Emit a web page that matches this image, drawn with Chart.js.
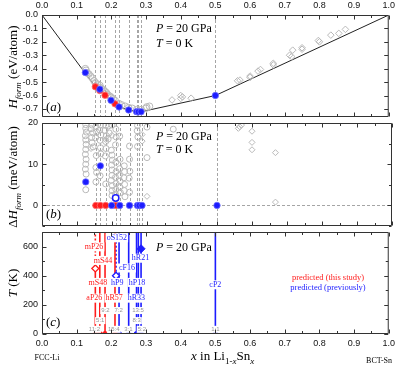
<!DOCTYPE html>
<html>
<head>
<meta charset="utf-8">
<script src="https://cdn.jsdelivr.net/npm/chart.js@4.4.1/dist/chart.umd.min.js"></script>
<style>
  body { margin: 0; background: #fff; }
  #wrap { position: relative; width: 399px; height: 366px; }
  #wrap canvas { position: absolute; left: 0; top: 0; }
</style>
</head>
<body>
<div id="wrap">
  <canvas id="cA" width="399" height="366"></canvas>
  <canvas id="cB" width="399" height="366"></canvas>
  <canvas id="cC" width="399" height="366"></canvas>
</div>
<script>
// axes
const xTicks = [0, 0.1, 0.2, 0.3, 0.4, 0.5, 0.6, 0.7, 0.8, 0.9, 1.0];
const xMinorTicks = [0.05, 0.15, 0.25, 0.35, 0.45, 0.55, 0.65, 0.75, 0.85, 0.95];
const yTicksA = [0, -0.1, -0.2, -0.3, -0.4, -0.5, -0.6, -0.7];
const yTicksB = [0, 10, 20];
const yMinorB = [-5, 5, 15];
const yTicksC = [0, 200, 400, 600];
const yMinorC = [100, 300, 500, 700];

// stable compositions x in Li(1-x)Sn(x)
const compX = [0.1538, 0.1667, 0.1818, 0.2105, 0.2222, 0.25, 0.2727, 0.2778, 0.2857, 0.5];
const ratioLabels = ['11:2', '5:1', '9:2', '15:4', '7:2', '3:1', '8:3', '13:5', '5:2', '1:1'];
const ratioLabX = [0.151, 0.168, 0.183, 0.207, 0.221, 0.249, 0.273, 0.277, 0.288, 0.5];
const ratioLabT = [32, 92, 161, 32, 161, 32, 92, 161, 32, 32];

// (a) formation enthalpy, eV/atom
const hullX = [0, 0.1538, 0.1667, 0.1818, 0.2105, 0.2222, 0.25, 0.2727, 0.2778, 0.2857, 0.5, 1.0];
const hullH = [0, -0.535, -0.563, -0.598, -0.662, -0.685, -0.708, -0.72, -0.722, -0.721, -0.6, 0];
const redAX = [0.1538, 0.1667, 0.1818, 0.2105];
const redAH = [-0.535, -0.563, -0.598, -0.662];
const blueAX = [0.125, 0.1667, 0.199, 0.2222, 0.25, 0.2727, 0.2778, 0.2857, 0.5];
const blueAH = [-0.429, -0.553, -0.636, -0.685, -0.708, -0.72, -0.722, -0.721, -0.6];
const greyCirclesA = [
  [0.125, -0.40], [0.127, -0.412], [0.13, -0.43], [0.135, -0.44], [0.14, -0.455], [0.145, -0.47],
  [0.15, -0.49], [0.154, -0.505], [0.16, -0.515], [0.167, -0.525], [0.167, -0.54], [0.172, -0.55],
  [0.178, -0.56], [0.182, -0.57], [0.186, -0.58], [0.19, -0.595], [0.196, -0.605], [0.2, -0.615],
  [0.205, -0.625], [0.211, -0.638], [0.222, -0.66], [0.23, -0.67], [0.24, -0.68], [0.25, -0.69],
  [0.26, -0.695], [0.273, -0.705], [0.286, -0.705], [0.3, -0.695], [0.302, -0.685], [0.31, -0.68]
];
const greyDiamondsA = [
  [0.375, -0.633], [0.4, -0.622], [0.4, -0.6], [0.405, -0.61], [0.43, -0.62],
  [0.564, -0.49], [0.571, -0.485], [0.6, -0.455], [0.6, -0.465], [0.623, -0.418], [0.63, -0.406],
  [0.667, -0.36], [0.667, -0.372], [0.714, -0.3], [0.72, -0.31], [0.723, -0.262], [0.75, -0.244],
  [0.75, -0.255], [0.797, -0.19], [0.8, -0.2], [0.833, -0.15], [0.856, -0.137], [0.875, -0.107]
];

// (b) distance to hull, meV/atom
const redBX = [0.1538, 0.1667, 0.1818, 0.2105];
const redBH = [0, 0, 0, 0];
const blueBX = [0.125, 0.1667, 0.199, 0.2222, 0.25, 0.2727, 0.2778, 0.2857, 0.5];
const blueBH = [5.7, 9.6, 0, 0, 0, 0, 0, 0, 0];
const blueOpenBX = [0.2105];
const blueOpenBH = [1.8];
const greyCirclesB = [
  [0.125, 19.6], [0.125, 18.7], [0.127, 17.8], [0.124, 16.9], [0.125, 15.9], [0.126, 14.8], [0.125, 13.6],
  [0.124, 12.4], [0.126, 11.2], [0.125, 10.0], [0.124, 8.8], [0.126, 7.6], [0.125, 3.8],
  [0.143, 19.5], [0.14, 18.6], [0.145, 17.6], [0.142, 16.5], [0.143, 15.2], [0.146, 14.2],
  [0.154, 19.2], [0.156, 17.8], [0.153, 16.4], [0.155, 12.1], [0.154, 9.2], [0.156, 8.0], [0.154, 5.7],
  [0.167, 19.5], [0.165, 18.3], [0.168, 17.1], [0.166, 15.8], [0.167, 14.0], [0.168, 12.5], [0.166, 7.2],
  [0.182, 19.4], [0.18, 18.2], [0.184, 16.9], [0.182, 15.5], [0.183, 13.8], [0.181, 12.0], [0.182, 5.2],
  [0.19, 19.3], [0.192, 17.6], [0.189, 16.1],
  [0.2, 19.5], [0.198, 13.4], [0.2, 12.2], [0.201, 11.0], [0.199, 9.8], [0.2, 8.6], [0.2, 7.3],
  [0.198, 6.1], [0.201, 4.8], [0.2, 3.6], [0.2, 2.4],
  [0.211, 18.5], [0.212, 16.6], [0.21, 14.7], [0.211, 10.5], [0.212, 8.2], [0.21, 6.8], [0.212, 5.3],
  [0.211, 3.9], [0.21, 2.7],
  [0.222, 16.8], [0.223, 11.2], [0.222, 8.9], [0.221, 7.3], [0.223, 5.9], [0.222, 4.5], [0.224, 3.1],
  [0.235, 9.6], [0.236, 8.2], [0.234, 6.7], [0.236, 5.1], [0.235, 3.6], [0.237, 2.1],
  [0.25, 14.4], [0.25, 11.2], [0.251, 8.3], [0.249, 6.6], [0.25, 3.2],
  [0.273, 19.4], [0.272, 18.1], [0.274, 16.6], [0.273, 14.3],
  [0.3, 19.0], [0.3, 11.6], [0.375, 18.5]
];
const greyDiamondsB = [
  [0.14, 13.8], [0.182, 16.0], [0.2, 17.0], [0.286, 17.2], [0.286, 15.6], [0.3, 2.2],
  [0.561, 18.7], [0.565, 19.1], [0.57, 19.5], [0.6, 18.0], [0.6, 15.3], [0.6, 13.5],
  [0.667, 12.8], [0.667, 0.8]
];

// (c) temperature ranges, K
const redLineX = [0.1538, 0.1667, 0.1818, 0.2105];
const redLineTop = [450, 700, 700, 700];
const redDotX = [0.1538];
const redDotFrom = [450];
const blueLineX = [0.2222, 0.25, 0.2727, 0.2778, 0.2857, 0.5];
const blueLineTop = [700, 700, 700, 700, 700, 700];
const blueDotX = [0.2135];
const blueDotFrom = [400];
const redOpenDiamond = [[0.1538, 450]];
const blueOpenDiamond = [[0.2135, 400]];
const blueFilledDiamond = [[0.2857, 585]];
const baseRedX = [0.1538, 0.1667, 0.1818, 0.2105];
const baseBlueX = [0.2135, 0.2222, 0.25, 0.2727, 0.2778, 0.2857, 0.5];
const phaseNames = ['mP26', 'mS44', 'mS48', 'aP26', 'hR57', 'oS152', 'hP9', 'cF16', 'hR21', 'hP18', 'hR33', 'cP2'];
const phaseLabX = [0.150, 0.176, 0.161, 0.151, 0.208, 0.216, 0.217, 0.245, 0.284, 0.274, 0.272, 0.5];
const phaseLabT = [598, 505, 354, 246, 246, 660, 354, 453, 520, 354, 246, 338];
const phaseNew = [true, true, true, true, true, false, false, false, false, false, false, false];

const serif = '"Liberation Serif", "Times New Roman", serif';
const sans = '"Liberation Sans", Arial, sans-serif';
const RED = 'rgb(255,28,28)';
const BLUE = 'rgb(28,28,255)';
const GREY = 'rgb(185,185,185)';

const pts = (xs, ys) => xs.map((x, i) => ({ x: x, y: ys[i] }));
const pairs = arr => arr.map(p => ({ x: p[0], y: p[1] }));

// text with italic / subscript pieces
function drawRich(ctx, parts, x, y, o) {
  const size = o.size || 13;
  const fam = o.family || serif;
  const fontOf = p => ((p[1] || '').includes('i') ? 'italic ' : '') +
    ((p[1] || '').includes('s') ? Math.round(size * 0.7) : size) + 'px ' + fam;
  ctx.save();
  let w = 0;
  parts.forEach(p => { ctx.font = fontOf(p); w += ctx.measureText(p[0]).width; });
  ctx.translate(x, y);
  if (o.rotate) ctx.rotate(-Math.PI / 2);
  let cx = o.align === 'center' ? -w / 2 : (o.align === 'right' ? -w : 0);
  ctx.fillStyle = o.color || '#000';
  ctx.textBaseline = 'alphabetic';
  parts.forEach(p => {
    ctx.font = fontOf(p);
    const sub = (p[1] || '').includes('s');
    ctx.fillText(p[0], cx, sub ? size * 0.3 : 0);
    cx += ctx.measureText(p[0]).width;
  });
  ctx.restore();
}

const framePlugin = {
  id: 'frame',
  afterDraw(chart, args, o) {
    const { ctx, chartArea: a } = chart;
    const x = chart.scales.x, y = chart.scales.y;
    const L = a.left + 0.5, R = a.right - 0.5, T = a.top + 0.5, B = a.bottom - 0.5;
    ctx.save();
    ctx.strokeStyle = '#333';
    ctx.lineWidth = 1;
    ctx.beginPath();
    ctx.rect(L, T, R - L, B - T);
    const xt = (v, len) => {
      const p = Math.round(x.getPixelForValue(v)) + 0.5;
      ctx.moveTo(p, T); ctx.lineTo(p, T + len);
      ctx.moveTo(p, B); ctx.lineTo(p, B - len);
    };
    const yt = (v, len) => {
      const p = Math.round(y.getPixelForValue(v)) + 0.5;
      ctx.moveTo(L, p); ctx.lineTo(L + len, p);
      ctx.moveTo(R, p); ctx.lineTo(R - len, p);
    };
    xTicks.forEach(v => xt(v, 4));
    xMinorTicks.forEach(v => xt(v, 2.5));
    (o.yMajor || []).forEach(v => yt(v, 4));
    (o.yMinor || []).forEach(v => yt(v, 2.5));
    ctx.stroke();
    ctx.restore();
  }
};

const compLinesPlugin = {
  id: 'compLines',
  beforeDatasetsDraw(chart, args, o) {
    if (!o.on) return;
    const { ctx, chartArea: a } = chart;
    const x = chart.scales.x, y = chart.scales.y;
    ctx.save();
    ctx.strokeStyle = 'rgb(165,165,165)';
    ctx.lineWidth = 1;
    ctx.setLineDash([3, 2]);
    ctx.beginPath();
    compX.forEach(v => {
      const p = Math.round(x.getPixelForValue(v)) + 0.5;
      ctx.moveTo(p, a.top); ctx.lineTo(p, a.bottom);
    });
    if (o.zero) {
      const p = Math.round(y.getPixelForValue(0)) + 0.5;
      ctx.moveTo(a.left, p); ctx.lineTo(a.right, p);
    }
    ctx.stroke();
    ctx.restore();
  }
};

const phaseLabelPlugin = {
  id: 'phaseLabels',
  afterDatasetsDraw(chart, args, o) {
    if (!o.on) return;
    const { ctx } = chart;
    const x = chart.scales.x, y = chart.scales.y;
    ctx.save();
    ctx.textAlign = 'center';
    ctx.textBaseline = 'middle';
    const label = (txt, px, py, font, h, color) => {
      ctx.font = font;
      const w = ctx.measureText(txt).width;
      ctx.fillStyle = '#fff';
      ctx.fillRect(px - w / 2 - 1, py - h / 2, w + 2, h);
      ctx.fillStyle = color;
      ctx.fillText(txt, px, py);
    };
    phaseNames.forEach((n, i) => label(n, x.getPixelForValue(phaseLabX[i]), y.getPixelForValue(phaseLabT[i]),
      '8px ' + serif, 9, phaseNew[i] ? RED : BLUE));
    ratioLabels.forEach((n, i) => label(n, x.getPixelForValue(ratioLabX[i]), y.getPixelForValue(ratioLabT[i]),
      '6px ' + sans, 7, 'rgb(150,150,150)'));
    ctx.restore();
  }
};

const notesPlugin = {
  id: 'notes',
  afterDraw(chart, args, o) {
    (o.items || []).forEach(n => drawRich(chart.ctx, n.parts, n.x, n.y, n));
  }
};

function makeChart(id, datasets, c) {
  return new Chart(document.getElementById(id), {
    type: 'scatter',
    data: { datasets: datasets },
    options: {
      responsive: false,
      animation: false,
      layout: { padding: c.padding },
      plugins: {
        legend: { display: false },
        tooltip: { enabled: false },
        frame: { yMajor: c.yTicks, yMinor: c.yMinor },
        compLines: c.compLines || {},
        phaseLabels: c.phaseLabels || {},
        notes: { items: c.notes }
      },
      scales: {
        x: {
          type: 'linear', min: 0, max: 1, position: c.xPos, display: c.xShow,
          grid: { display: false, drawTicks: false, tickLength: 0 }, border: { display: false },
          ticks: { font: { family: sans, size: 9 }, color: '#111', padding: 4, maxRotation: 0, autoSkip: false,
                   callback: v => v.toFixed(1) },
          afterBuildTicks: s => { s.ticks = xTicks.map(v => ({ value: v })); },
          afterFit: s => { s.height = c.xH; }
        },
        y: {
          type: 'linear', min: c.yMin, max: c.yMax,
          grid: { display: false, drawTicks: false, tickLength: 0 }, border: { display: false },
          ticks: { font: { family: sans, size: 9 }, color: '#111', padding: 4, autoSkip: false, callback: c.yFmt },
          afterBuildTicks: s => { s.ticks = c.yTicks.map(v => ({ value: v })); },
          afterFit: s => { s.width = 42; }
        }
      }
    },
    plugins: [compLinesPlugin, phaseLabelPlugin, framePlugin, notesPlugin]
  });
}

const pressure = (y) => ({ parts: [['P', 'i'], [' = 20 GPa']], x: 156, y: y, size: 12 });
const temp0 = (y) => ({ parts: [['T', 'i'], [' = 0 K']], x: 156, y: y, size: 12 });

// panel (a)
makeChart('cA', [
  { data: pts(blueAX, blueAH), pointRadius: 3.2, backgroundColor: BLUE, borderColor: 'rgba(110,110,255,0.8)', borderWidth: 1 },
  { data: pts(redAX, redAH), pointRadius: 3.2, backgroundColor: RED, borderColor: 'rgba(255,110,110,0.8)', borderWidth: 1 },
  { data: pairs(greyCirclesA), pointRadius: 3.3, backgroundColor: 'rgba(0,0,0,0)', borderColor: GREY, borderWidth: 1 },
  { data: pairs(greyDiamondsA), pointStyle: 'rectRot', pointRadius: 3.3, backgroundColor: 'rgba(0,0,0,0)', borderColor: GREY, borderWidth: 1 },
  { data: pts(hullX, hullH), showLine: true, borderColor: '#222', borderWidth: 1, pointRadius: 0 }
], {
  padding: { left: 0, right: 7, top: 0, bottom: 249 },
  xPos: 'top', xShow: true, xH: 15,
  yMin: -0.76, yMax: 0, yTicks: yTicksA, yMinor: [], yFmt: v => v.toFixed(1),
  compLines: { on: true },
  notes: [
    pressure(32), temp0(47),
    { parts: [['('], ['a', 'i'], [')']], x: 46, y: 111, size: 13 },
    { parts: [['H', 'i'], ['form', 'is'], [' (eV/atom)']], x: 17, y: 67, rotate: true, align: 'center', size: 13 }
  ]
});

// panel (b)
makeChart('cB', [
  { data: pts(blueBX, blueBH), pointRadius: 3.2, backgroundColor: BLUE, borderColor: 'rgba(110,110,255,0.8)', borderWidth: 1 },
  { data: pts(blueOpenBX, blueOpenBH), pointRadius: 3.2, backgroundColor: '#fff', borderColor: BLUE, borderWidth: 1.5 },
  { data: pts(redBX, redBH), pointRadius: 3.2, backgroundColor: RED, borderColor: 'rgba(255,110,110,0.8)', borderWidth: 1 },
  { data: pairs(greyCirclesB), pointRadius: 3, backgroundColor: 'rgba(0,0,0,0)', borderColor: GREY, borderWidth: 1 },
  { data: pairs(greyDiamondsB), pointStyle: 'rectRot', pointRadius: 3, backgroundColor: 'rgba(0,0,0,0)', borderColor: GREY, borderWidth: 1 }
], {
  padding: { left: 0, right: 7, top: 123, bottom: 140 },
  xPos: 'bottom', xShow: false, xH: 0,
  yMin: -5, yMax: 20, yTicks: yTicksB, yMinor: yMinorB, yFmt: v => String(v),
  compLines: { on: true, zero: true },
  notes: [
    pressure(140), temp0(153),
    { parts: [['('], ['b', 'i'], [')']], x: 46, y: 218, size: 13 },
    { parts: [['Δ'], ['H', 'i'], ['form', 'is'], [' (meV/atom)']], x: 17, y: 177, rotate: true, align: 'center', size: 13 }
  ]
});

// panel (c)
const vline = (x, from, to, color, dash) => ({
  data: [{ x: x, y: from }, { x: x, y: to }], showLine: true, pointRadius: 0,
  borderColor: color, borderWidth: 1.6, borderDash: dash || []
});
const dsC = [
  { data: pairs(blueFilledDiamond), pointStyle: 'rectRot', pointRadius: 4, backgroundColor: BLUE, borderColor: BLUE },
  { data: pairs(blueOpenDiamond), pointStyle: 'rectRot', pointRadius: 3.5, backgroundColor: '#fff', borderColor: BLUE, borderWidth: 1.3 },
  { data: pairs(redOpenDiamond), pointStyle: 'rectRot', pointRadius: 3.5, backgroundColor: '#fff', borderColor: RED, borderWidth: 1.3 },
  { data: baseRedX.map(x => ({ x: x, y: 0 })), pointRadius: 2.5, backgroundColor: RED, borderColor: RED },
  { data: baseBlueX.map(x => ({ x: x, y: 0 })), pointRadius: 2.5, backgroundColor: BLUE, borderColor: BLUE }
]
  .concat(redLineX.map((x, i) => vline(x, 0, redLineTop[i], RED)))
  .concat(redDotX.map((x, i) => vline(x, redDotFrom[i], 700, RED, [2, 2])))
  .concat(blueLineX.map((x, i) => vline(x, 0, blueLineTop[i], BLUE)))
  .concat(blueDotX.map((x, i) => vline(x, blueDotFrom[i], 700, BLUE, [2, 2])));

makeChart('cC', dsC, {
  padding: { left: 0, right: 7, top: 232, bottom: 20 },
  xPos: 'bottom', xShow: true, xH: 12,
  yMin: 0, yMax: 700, yTicks: yTicksC, yMinor: yMinorC, yFmt: v => String(v),
  phaseLabels: { on: true },
  notes: [
    pressure(251),
    { parts: [['('], ['c', 'i'], [')']], x: 46, y: 326, size: 13 },
    { parts: [['T', 'i'], [' (K)']], x: 17, y: 283, rotate: true, align: 'center', size: 13 },
    { parts: [['predicted (this study)']], x: 328, y: 280, align: 'center', size: 8.5, color: RED },
    { parts: [['predicted (previously)']], x: 328, y: 290, align: 'center', size: 8.5, color: BLUE },
    { parts: [['FCC-Li']], x: 47, y: 360, align: 'center', size: 8 },
    { parts: [['BCT-Sn']], x: 392, y: 363, align: 'right', size: 8 },
    { parts: [['x', 'i'], [' in Li'], ['1-', 's'], ['x', 'is'], ['Sn'], ['x', 'is']], x: 191, y: 360, size: 13 }
  ]
});
</script>
</body>
</html>
